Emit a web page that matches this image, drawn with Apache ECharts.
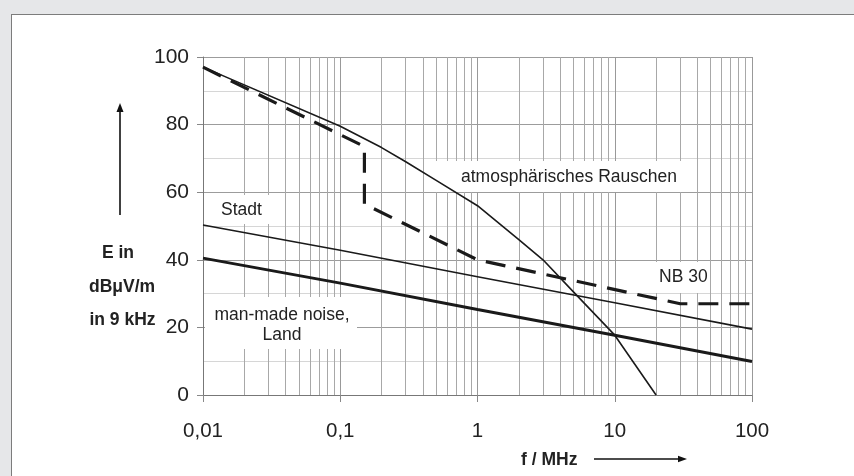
<!DOCTYPE html>
<html>
<head>
<meta charset="utf-8">
<script src="https://cdn.jsdelivr.net/npm/echarts@6/dist/echarts.min.js"></script>
<style>
  html, body { margin:0; padding:0; background:#e6e7e9; }
  #panel { position:absolute; left:11px; top:14px; right:-2px; bottom:-2px; background:#fff; border-left:1.5px solid #7c7c7c; border-top:1.5px solid #7c7c7c; }
  #chart { position:absolute; left:0; top:0; width:854px; height:476px; }
</style>
</head>
<body>
<div id="panel"></div>
<div id="chart"></div>
<script>
// ---- data ----
const xTickLabels = ['0,01', '0,1', '1', '10', '100'];
const yTicks = [0, 20, 40, 60, 80, 100];

const atmosFreq = [0.01, 0.1, 0.2, 0.3, 0.5, 1, 2, 3, 5, 10, 20];
const atmosE    = [97, 79.5, 73.2, 69, 63.5, 56, 46, 40, 30.5, 17.7, 0];

const nb30Freq = [0.01, 0.15, 0.15, 1, 30, 100];
const nb30E    = [97, 73.5, 56.5, 40, 27, 27];

const stadtFreq = [0.01, 0.1, 1, 10, 100];
const stadtE    = [50.3, 42.8, 35, 27.3, 19.5];

const landFreq = [0.01, 0.1, 1, 10, 100];
const landE    = [40.5, 33.1, 25.3, 17.7, 9.9];

// ---- helpers ----
const pairs = (fs, vs) => fs.map((f, i) => [f, vs[i]]);
const minorFreqs = [];
[0.01, 0.1, 1, 10].forEach(d => { for (let k = 2; k <= 9; k++) minorFreqs.push(+(d * k).toPrecision(3)); });

const FONT = '"Liberation Sans", Arial, Helvetica, sans-serif';
const TXT = '#222';

function box(x, y, w, h) {
  return { type: 'rect', z: 6, silent: true, shape: { x, y, width: w, height: h }, style: { fill: '#fff' } };
}
function txt(text, x, y, align, bold, size) {
  return { type: 'text', z: 20, silent: true, x, y,
    style: { text, fill: TXT, font: (bold ? 'bold ' : '') + (size || 17.5) + 'px ' + FONT,
             textAlign: align, textVerticalAlign: 'middle', verticalAlign: 'middle' } };
}

const chart = echarts.init(document.getElementById('chart'), null, { renderer: 'canvas' });
chart.setOption({
  animation: false,
  backgroundColor: 'transparent',
  grid: { left: 203, top: 57, width: 549, height: 338, containLabel: false },
  xAxis: {
    type: 'log', logBase: 10, min: 0.01, max: 100,
    axisLine: { show: true, lineStyle: { color: '#777', width: 1 } },
    axisTick: { show: true, length: 7, lineStyle: { color: '#888' } },
    axisLabel: { margin: 26, color: TXT, fontSize: 20.5, fontFamily: FONT,
      formatter: v => xTickLabels[Math.round(Math.log10(v)) + 2] },
    splitLine: { show: true, lineStyle: { color: '#999', width: 1 } },
    minorTick: { show: false }
  },
  yAxis: {
    type: 'value', min: yTicks[0], max: yTicks[yTicks.length - 1], interval: 20,
    axisLine: { show: true, lineStyle: { color: '#777', width: 1 } },
    axisTick: { show: true, length: 6, lineStyle: { color: '#888' } },
    axisLabel: { margin: 14, color: TXT, fontSize: 21, fontFamily: FONT },
    splitLine: { show: true, lineStyle: { color: '#9c9c9c', width: 1 } },
    minorTick: { show: false, splitNumber: 2 },
    minorSplitLine: { show: true, lineStyle: { color: '#d6d6d6', width: 1 } }
  },
  series: [
    { type: 'line', name: 'grid', data: [], silent: true, z: 1,
      markLine: { z: 1, silent: true, symbol: ['none', 'none'], label: { show: false },
        lineStyle: { color: '#a8a8a8', type: 'solid', width: 1 }, emphasis: { disabled: true },
        data: minorFreqs.map(f => ({ xAxis: f })) } },
    { type: 'line', name: 'atmosphärisches Rauschen', data: pairs(atmosFreq, atmosE), z: 10,
      symbol: 'none', lineStyle: { color: '#1a1a1a', width: 1.6 } },
    { type: 'line', name: 'Stadt', data: pairs(stadtFreq, stadtE), z: 10,
      symbol: 'none', lineStyle: { color: '#1a1a1a', width: 1.6 } },
    { type: 'line', name: 'Land', data: pairs(landFreq, landE), z: 10,
      symbol: 'none', lineStyle: { color: '#1a1a1a', width: 3 } },
    { type: 'line', name: 'NB 30', data: pairs(nb30Freq, nb30E), z: 10,
      symbol: 'none', lineStyle: { color: '#1a1a1a', width: 3.2, type: [20, 11] } }
  ],
  graphic: [
    box(205, 195, 73, 29),
    box(432, 161, 258, 31),
    box(648, 262, 62, 31),
    box(205, 297, 152, 52),
    txt('Stadt', 221, 210, 'left'),
    txt('atmosphärisches Rauschen', 461, 177, 'left'),
    txt('NB 30', 659, 277, 'left'),
    txt('man-made noise,', 282, 315, 'center'),
    txt('Land', 282, 335, 'center'),
    txt('E in', 118, 253, 'center', true),
    txt('dBμV/m', 122, 287, 'center', true),
    txt('in 9 kHz', 122.5, 320, 'center', true),
    txt('f / MHz', 521, 460, 'left', true),
    { type: 'line', z: 20, silent: true, shape: { x1: 120, y1: 215, x2: 120, y2: 110 }, style: { stroke: '#111', lineWidth: 1.6 } },
    { type: 'polygon', z: 20, silent: true, shape: { points: [[120, 103], [116.5, 112], [123.5, 112]] }, style: { fill: '#111' } },
    { type: 'line', z: 20, silent: true, shape: { x1: 594, y1: 459, x2: 680, y2: 459 }, style: { stroke: '#111', lineWidth: 1.4 } },
    { type: 'polygon', z: 20, silent: true, shape: { points: [[687, 459], [678, 455.8], [678, 462.2]] }, style: { fill: '#111' } }
  ]
});
</script>
</body>
</html>
